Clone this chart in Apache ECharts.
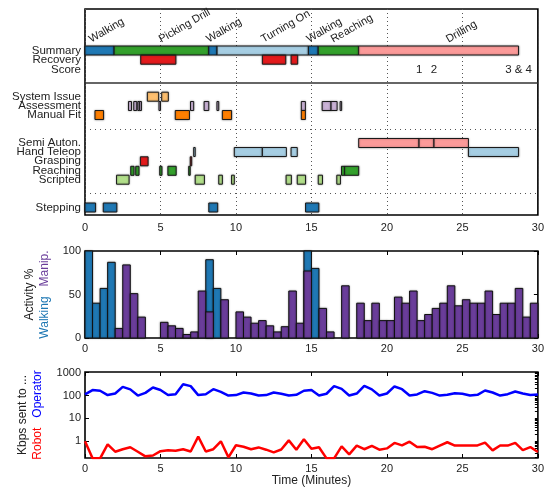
<!DOCTYPE html>
<html>
<head>
<meta charset="utf-8">
<script src="https://cdn.jsdelivr.net/npm/echarts@6/dist/echarts.min.js"></script>
<style>
  html, body { margin: 0; padding: 0; background: #fff; }
  #main { width: 547px; height: 489px; }
</style>
</head>
<body>
<div id="main"></div>
<script>
// ---------- timeline panel (times in minutes) ----------
var summaryPhase = ['Walking', 'Picking Drill', 'Walking', 'Turning On', 'Walking', 'Reaching', 'Drilling'];
var summaryStart = [0, 1.93, 8.2, 8.75, 14.8, 15.45, 18.13];
var summaryEnd   = [1.93, 8.2, 8.75, 14.8, 15.45, 18.13, 28.72];

var recovery    = [[3.69, 6.02], [11.75, 13.3], [13.65, 14.09]];
var scoreTimes  = [22.13, 23.12, 28.72];
var scoreLabels = ['1', '2', '3 & 4'];
var systemIssue = [[4.13, 4.88], [5.08, 5.52]];
var assessment  = [[2.88, 3.08], [3.23, 3.43], [3.5, 3.62], [3.62, 3.74], [4.9, 5.0], [6.99, 7.2],
                   [7.89, 8.2], [8.74, 8.86], [14.33, 14.6], [15.71, 16.3], [16.3, 16.7], [16.9, 17.0]];
var manualFit   = [[0.66, 1.23], [5.98, 6.92], [9.1, 9.71], [14.33, 14.6]];
var semiAuton   = [[18.13, 22.13], [22.13, 23.12], [23.12, 25.4]];
var handTeleop  = [[7.2, 7.3], [9.89, 11.75], [11.75, 13.34], [13.65, 14.06], [25.4, 28.72]];
var grasping    = [[3.67, 4.18], [6.97, 7.03]];
var reaching    = [[3.03, 3.25], [3.36, 3.58], [4.95, 5.1], [5.49, 6.04], [6.87, 6.93], [16.99, 17.2], [17.2, 18.13]];
var scripted    = [[2.09, 2.92], [7.3, 7.91], [8.86, 9.1], [9.71, 9.89], [13.32, 13.67], [14.06, 14.61],
                   [15.45, 15.73], [16.68, 16.92]];
var stepping    = [[0, 0.7], [1.21, 2.11], [8.2, 8.79], [14.61, 15.49]];

// ---------- activity histogram (0.5 min bins) ----------
var binWidth = 0.5;
var walkingPct = [100, 40, 57, 87, 0, 0, 0, 0, 0, 0, 0, 0, 0, 0, 0, 0, 90, 57, 0, 0,
                  0, 0, 0, 0, 0, 0, 0, 0, 0, 110, 80, 0, 0, 0, 0, 0, 0, 0, 0, 0,
                  0, 0, 0, 0, 0, 0, 0, 0, 0, 0, 0, 0, 0, 0, 0, 0, 0, 0, 0, 0];
var manipPct   = [0, 0, 0, 0, 11, 84, 51, 24, 0, 0, 18, 14, 11, 4, 7, 54, 30, 0, 44, 0,
                  30, 24, 17, 20, 14, 7, 13, 54, 17, 77, 0, 34, 7, 0, 60, 0, 40, 20, 40, 20,
                  20, 47, 40, 54, 20, 27, 34, 40, 60, 37, 44, 40, 40, 54, 27, 40, 40, 57, 24, 40];

// ---------- bandwidth (Kbps, every 0.5 min) ----------
var sampleStep = 0.5;
var operatorKbps = [112, 174, 162, 105, 123, 240, 186, 100, 131, 224, 174, 105, 115, 310, 259, 105,
                    115, 190, 145, 100, 105, 136, 123, 100, 105, 136, 120, 100, 108, 162, 174, 100,
                    120, 259, 196, 100, 123, 268, 186, 100, 123, 250, 190, 100, 112, 155, 131, 100,
                    108, 127, 120, 100, 108, 167, 136, 100, 115, 150, 123, 105, 112];
var robotKbps = [1.0, 0.18, 0.18, 0.74, 0.35, 0.45, 0.55, 0.35, 0.22, 0.24, 0.37, 0.41, 0.39, 0.45, 0.36, 1.6,
                 0.36, 0.45, 1.0, 0.2, 0.67, 0.58, 0.45, 0.54, 0.43, 0.33, 0.44, 1.1, 0.43, 1.22, 0.47, 0.55,
                 0.18, 0.18, 0.6, 0.27, 0.65, 0.45, 0.63, 0.43, 0.49, 0.85, 0.66, 0.96, 0.56, 0.58, 0.45, 0.65,
                 0.91, 0.65, 0.65, 0.66, 0.66, 0.87, 0.4, 0.66, 0.65, 0.85, 0.41, 0.56, 0.34];

// ---------- layout / style ----------
var FONT = 'Liberation Sans, Arial, Helvetica, sans-serif';
var TXT = '#222';
var palette = ['#a6cee3', '#1f78b4', '#b2df8a', '#33a02c', '#fb9a99', '#e31a1c', '#fdbf6f', '#ff7f00', '#cab2d6', '#6a3d9a'];
var phaseColor = { 'Walking': 1, 'Picking Drill': 3, 'Turning On': 0, 'Reaching': 3, 'Drilling': 4 };
var phaseLabelDx = [-7, 1, -3, 2, -3, -4, 11];   // px nudge of each rotated phase label

// row label -> vertical position inside the top panel (panel is 206 units tall)
var rowNames = ['Summary', 'Recovery', 'Score', 'System Issue', 'Assessment', 'Manual Fit',
                'Semi Auton.', 'Hand Teleop', 'Grasping', 'Reaching', 'Scripted', 'Stepping'];
var rowPos = [41.5, 50.7, 60.5, 87.7, 97, 106, 134, 143, 152.3, 161.8, 170.7, 198.5];
var rowH = 9;
// rows are packed tighter than a label is tall, so labels alternate between two axes
var rowPosEven = rowPos.filter(function (v, i) { return i % 2 === 0; });
var rowPosOdd = rowPos.filter(function (v, i) { return i % 2 === 1; });

var rowSegs = [
  ['Recovery', recovery, 5],
  ['System Issue', systemIssue, 6],
  ['Assessment', assessment, 8],
  ['Manual Fit', manualFit, 7],
  ['Semi Auton.', semiAuton, 4],
  ['Hand Teleop', handTeleop, 0],
  ['Grasping', grasping, 5],
  ['Reaching', reaching, 3],
  ['Scripted', scripted, 2],
  ['Stepping', stepping, 1]
];

var segData = [];
summaryPhase.forEach(function (p, i) {
  segData.push([summaryStart[i], summaryEnd[i], rowPos[0], phaseColor[p]]);
});
rowSegs.forEach(function (r) {
  var y = rowPos[rowNames.indexOf(r[0])];
  r[1].forEach(function (s) { segData.push([s[0], s[1], y, r[2]]); });
});

var phaseLabelData = summaryPhase.map(function (p, i) {
  return [(summaryStart[i] + summaryEnd[i]) / 2, rowPos[0] - rowH / 2, i];
});
var scoreData = scoreTimes.map(function (t, i) { return [t, rowPos[2], i]; });

var walkData = walkingPct.map(function (v, i) { return [i * binWidth, v]; });
var manipData = manipPct.map(function (v, i) { return [i * binWidth, v]; });
var opData = operatorKbps.map(function (v, i) { return [i * sampleStep, Math.log10(v)]; });
var robData = robotKbps.map(function (v, i) { return [i * sampleStep, Math.log10(v)]; });

var minorLog = [];
for (var d = -1; d <= 2; d++) {
  for (var k = 1; k <= 9; k++) {
    var lv = Math.log10(k * Math.pow(10, d));
    if (lv >= -0.73 && lv <= 3.03) minorLog.push(lv);
  }
}
minorLog.push(3);

function renderSeg(params, api) {
  var s = api.coord([api.value(0), api.value(2)]);
  var e = api.coord([api.value(1), api.value(2)]);
  var h = Math.abs(api.size([0, rowH])[1]);
  var w = Math.max(e[0] - s[0], 1.5);
  var rect = echarts.graphic.clipRectByRect({ x: s[0], y: s[1] - h / 2, width: w, height: h }, params.coordSys);
  return rect && {
    type: 'rect', shape: rect,
    style: { fill: palette[api.value(3)], stroke: '#1a1a1a', lineWidth: 1,
             shadowBlur: 2, shadowColor: 'rgba(0,0,0,0.35)' }
  };
}

function renderBin(color) {
  return function (params, api) {
    if (!api.value(1)) return null;
    var tl = api.coord([api.value(0), api.value(1)]);
    var br = api.coord([api.value(0) + binWidth, 0]);
    var rect = echarts.graphic.clipRectByRect({ x: tl[0], y: tl[1], width: br[0] - tl[0], height: br[1] - tl[1] }, params.coordSys);
    return rect && {
      type: 'rect', shape: rect,
      style: { fill: color, stroke: '#111', lineWidth: 1, shadowBlur: 2, shadowColor: 'rgba(0,0,0,0.3)' }
    };
  };
}

var tickLbl = { fontFamily: FONT, fontSize: 11, color: TXT };
function bottomX(gi, margin, extra) {
  return Object.assign({
    gridIndex: gi, type: 'value', min: 0, max: 30, interval: 5, position: 'bottom',
    axisLine: { show: false, onZero: false },
    axisTick: { show: gi > 0, inside: true, length: 4, lineStyle: { color: '#000' } },
    axisLabel: Object.assign({ margin: margin }, tickLbl),
    splitLine: { show: false }
  }, extra || {});
}
function topX(gi) {
  return {
    gridIndex: gi, type: 'value', min: 0, max: 30, interval: 5, position: 'top',
    axisLine: { show: false, onZero: false }, axisLabel: { show: false }, splitLine: { show: false },
    axisTick: { show: true, inside: true, length: 4, lineStyle: { color: '#000' } }
  };
}
function rowAxis(values) {
  return {
    gridIndex: 0, type: 'value', min: 0, max: 206, inverse: true, position: 'left', offset: 0,
    axisLine: { show: false, onZero: false }, axisTick: { show: false }, splitLine: { show: false },
    axisLabel: {
      customValues: values, margin: 4, fontFamily: FONT, fontSize: 11.5, color: TXT,
      showMinLabel: true, showMaxLabel: true, hideOverlap: false,
      formatter: function (v) { var i = rowPos.indexOf(v); return i >= 0 ? rowNames[i] : ''; }
    }
  };
}

var chart = echarts.init(document.getElementById('main'), null, { renderer: 'canvas' });

var option = {
  animation: false,
  backgroundColor: '#fff',
  grid: [
    { left: 85, top: 9, width: 455, height: 206, show: true, borderColor: '#000', borderWidth: 1.6 },
    { left: 85, top: 251, width: 455, height: 87, show: true, borderColor: '#000', borderWidth: 1.6 },
    { left: 85, top: 372, width: 455, height: 86, show: true, borderColor: '#000', borderWidth: 1.6 }
  ],
  xAxis: [
    bottomX(0, 7, { splitLine: { show: true, lineStyle: { type: [1, 3], color: '#555', width: 1 } } }),
    bottomX(1, 5),
    topX(1),
    bottomX(2, 5, {
      name: 'Time (Minutes)', nameLocation: 'middle', nameGap: 17,
      nameTextStyle: { fontFamily: FONT, fontSize: 12, color: TXT }
    }),
    topX(2)
  ],
  yAxis: [
    rowAxis(rowPosEven),
    {
      gridIndex: 1, type: 'value', min: 0, max: 100, interval: 50,
      axisLine: { show: false, onZero: false }, splitLine: { show: false },
      axisTick: { show: true, inside: true, length: 4, lineStyle: { color: '#000' } },
      axisLabel: Object.assign({ margin: 4 }, tickLbl),
      name: 'Activity %\n{w|Walking}   {m|Manip.}', nameLocation: 'middle', nameGap: 33, nameRotate: 90,
      nameTextStyle: {
        fontFamily: FONT, fontSize: 12, color: TXT, lineHeight: 15,
        rich: { w: { color: '#1f78b4', fontFamily: FONT, fontSize: 12 }, m: { color: '#6a3d9a', fontFamily: FONT, fontSize: 12 } }
      }
    },
    {
      gridIndex: 1, type: 'value', min: 0, max: 100, interval: 50, position: 'right',
      axisLine: { show: false, onZero: false }, splitLine: { show: false }, axisLabel: { show: false },
      axisTick: { show: true, inside: true, length: 4, lineStyle: { color: '#000' } }
    },
    {
      gridIndex: 2, type: 'value', min: -0.73, max: 3.03,
      axisLine: { show: false, onZero: false }, splitLine: { show: false },
      axisTick: { show: true, inside: true, length: 4, customValues: [0, 1, 2, 3], lineStyle: { color: '#000' } },
      axisLabel: Object.assign({
        margin: 4, customValues: [0, 1, 2, 3], showMinLabel: true, showMaxLabel: true,
        formatter: function (v) { return String(Math.round(Math.pow(10, v))); }
      }, tickLbl),
      name: 'Kbps sent to ...\n{r|Robot}   {o|Operator}', nameLocation: 'middle', nameGap: 33, nameRotate: 90,
      nameTextStyle: {
        fontFamily: FONT, fontSize: 12, color: TXT, lineHeight: 15,
        rich: { r: { color: '#ff0000', fontFamily: FONT, fontSize: 12 }, o: { color: '#0000ff', fontFamily: FONT, fontSize: 12 } }
      }
    },
    {
      gridIndex: 2, type: 'value', min: -0.73, max: 3.03, position: 'right',
      axisLine: { show: false, onZero: false }, splitLine: { show: false }, axisLabel: { show: false },
      axisTick: { show: true, inside: true, length: 3, customValues: minorLog, lineStyle: { color: '#000' } }
    },
    rowAxis(rowPosOdd)
  ],
  series: [
    {
      type: 'custom', xAxisIndex: 0, yAxisIndex: 0, renderItem: renderSeg,
      encode: { x: [0, 1], y: 2 }, data: segData, silent: true,
      markLine: {
        silent: true, symbol: 'none', label: { show: false },
        data: [
          { yAxis: 73.7, lineStyle: { type: 'solid', color: '#333', width: 1.5 } },
          { yAxis: 120.3, lineStyle: { type: [1, 4], color: '#555', width: 1 } },
          { yAxis: 184.3, lineStyle: { type: [1, 4], color: '#555', width: 1 } }
        ]
      }
    },
    {
      type: 'custom', xAxisIndex: 0, yAxisIndex: 0, silent: true,
      encode: { x: 0, y: 1 }, data: phaseLabelData,
      renderItem: function (params, api) {
        var p = api.coord([api.value(0), api.value(1)]);
        var i = api.value(2);
        return {
          type: 'text', x: p[0] + phaseLabelDx[i], y: p[1] - 1, rotation: Math.PI / 6,
          style: { text: summaryPhase[i], font: '11px ' + FONT, fill: TXT, align: 'left', verticalAlign: 'bottom' }
        };
      }
    },
    {
      type: 'custom', xAxisIndex: 0, yAxisIndex: 0, silent: true,
      encode: { x: 0, y: 1 }, data: scoreData,
      renderItem: function (params, api) {
        var p = api.coord([api.value(0), api.value(1)]);
        return {
          type: 'text', x: p[0], y: p[1],
          style: { text: scoreLabels[api.value(2)], font: '11.5px ' + FONT, fill: TXT, align: 'center', verticalAlign: 'middle' }
        };
      }
    },
    {
      type: 'custom', xAxisIndex: 1, yAxisIndex: 1, silent: true,
      encode: { x: 0, y: 1 }, data: walkData, renderItem: renderBin('#1f78b4')
    },
    {
      type: 'custom', xAxisIndex: 1, yAxisIndex: 1, silent: true,
      encode: { x: 0, y: 1 }, data: manipData, renderItem: renderBin('#6a3d9a')
    },
    {
      type: 'line', xAxisIndex: 3, yAxisIndex: 3, data: opData, showSymbol: false, clip: true,
      lineStyle: { color: '#0000ff', width: 2.5 }, silent: true
    },
    {
      type: 'line', xAxisIndex: 3, yAxisIndex: 3, data: robData, showSymbol: false, clip: true,
      lineStyle: { color: '#ff0000', width: 2.5 }, silent: true
    }
  ]
};

chart.setOption(option);
</script>
</body>
</html>
